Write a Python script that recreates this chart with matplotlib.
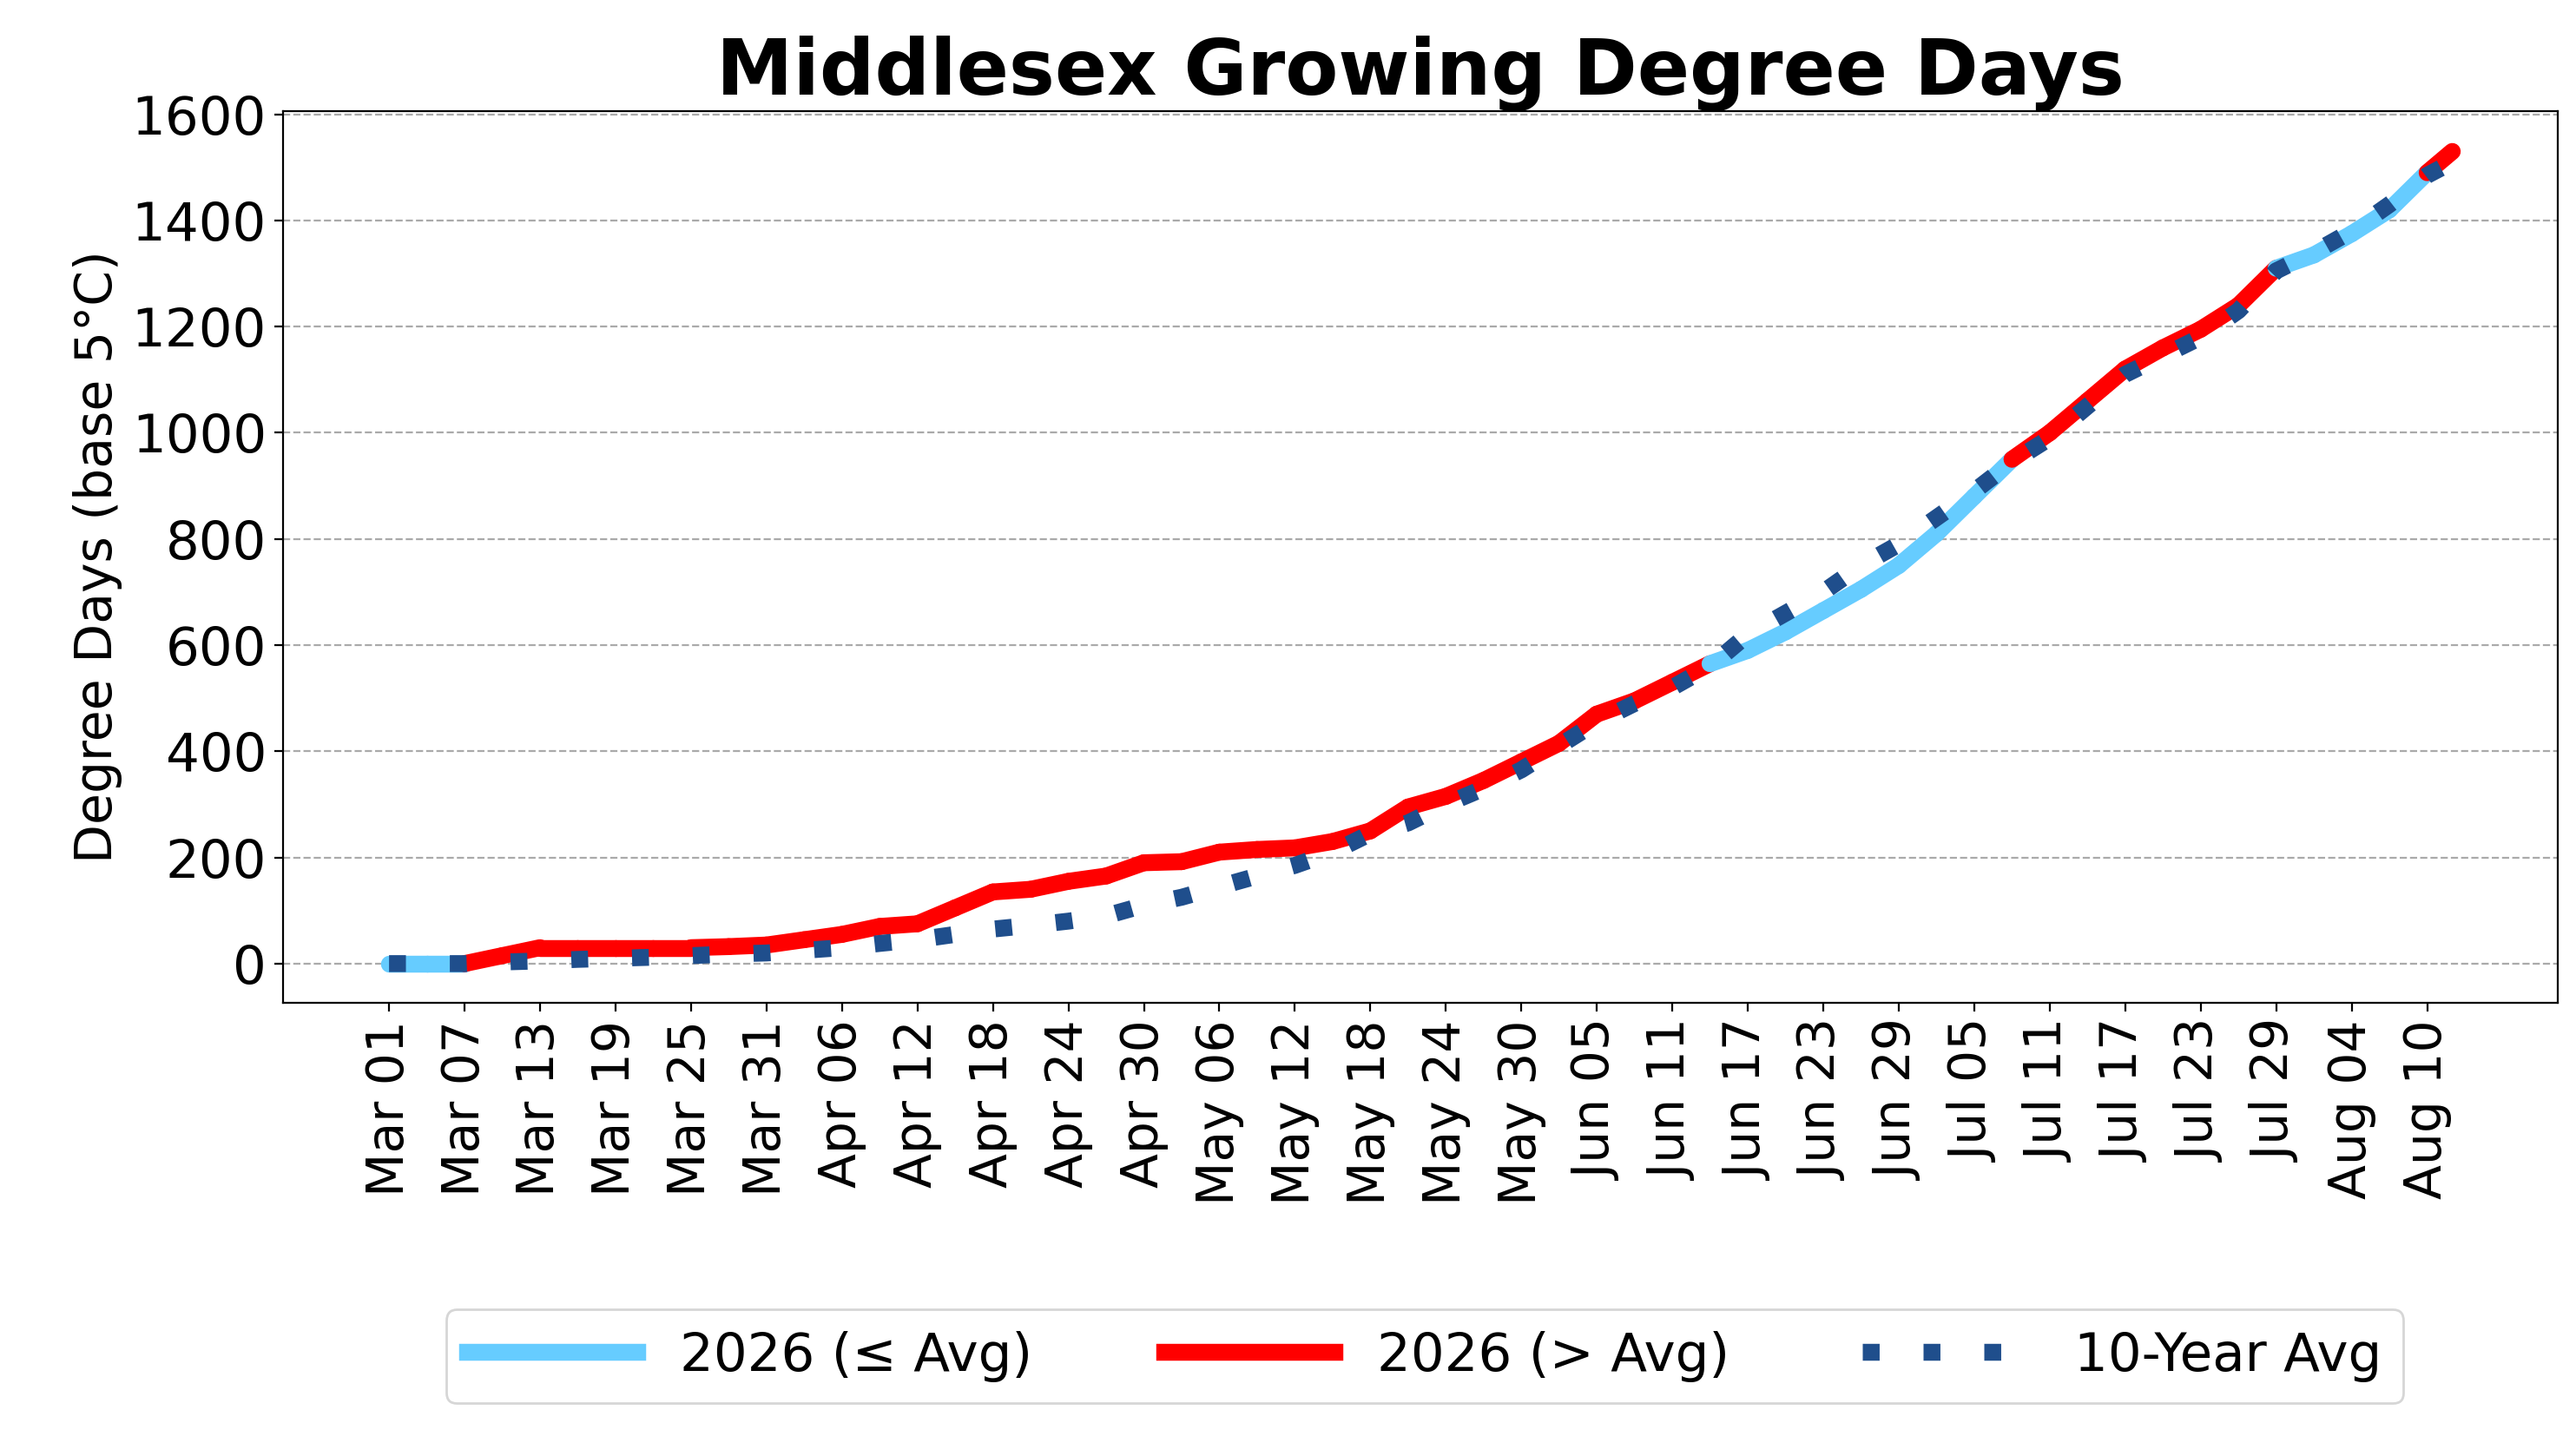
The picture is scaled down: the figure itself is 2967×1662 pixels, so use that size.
import pandas as pd
import matplotlib.pyplot as plt

# days since Mar 01 and cumulative growing degree days
days = list(range(0, 163, 3)) + [164]
gdd_2026 = [0, 0, 0, 15, 30, 30, 30, 30, 30, 32,
            35, 45, 55, 70, 75, 105, 135,
            140, 155, 165, 190, 192, 210, 215, 218, 230, 250,
            295, 315, 345, 380, 415, 470, 495, 530, 565, 590,
            625, 665, 705, 750, 810, 880, 950, 1000, 1060, 1120,
            1160, 1195, 1240, 1310, 1335, 1375, 1420, 1490, 1530]
gdd_avg = [0, 0, 0, 3, 5, 8, 10, 12, 15, 18,
           20, 25, 30, 38, 45, 55, 65,
           72, 80, 90, 110, 125, 145, 165, 185, 210, 245,
           265, 300, 330, 365, 410, 455, 490, 520, 560, 620,
           660, 700, 750, 790, 840, 890, 945, 990, 1050, 1110,
           1145, 1180, 1230, 1305, 1340, 1380, 1430, 1485, 1510]

start = pd.Timestamp('2026-03-01')
dates = [start + pd.Timedelta(days=d) for d in days]
ticks = pd.date_range(start, '2026-08-10', freq='6D')

fig, ax = plt.subplots(figsize=(14.835, 8.31), dpi=200)
fig.subplots_adjust(left=0.11, right=0.993, top=0.923, bottom=0.305)

# colour each segment by comparison with the 10-year average
for i in range(len(days) - 1):
    above = (gdd_2026[i] + gdd_2026[i + 1]) > (gdd_avg[i] + gdd_avg[i + 1])
    ax.plot(dates[i:i + 2], gdd_2026[i:i + 2], color='red' if above else '#66ccff',
            lw=7, solid_capstyle='round', zorder=2)

ax.plot([], [], color='#66ccff', lw=7, label='2026 (≤ Avg)')
ax.plot([], [], color='red', lw=7, label='2026 (> Avg)')
ax.plot(dates, gdd_avg, color='#1f4e8c', lw=7, linestyle=(0, (1, 2.6)), zorder=3,
        label='10-Year Avg')

ax.set_xticks(ticks)
ax.set_xticklabels([t.strftime('%b %d') for t in ticks], rotation=90, fontsize=21)
ax.set_xlim(start - pd.Timedelta(days=8.4), pd.Timestamp('2026-08-10') + pd.Timedelta(days=10.4))
ax.tick_params(axis='y', labelsize=22)
ax.set_ylim(-74, 1606)
ax.set_yticks(range(0, 1601, 200))
ax.set_ylabel('Degree Days (base 5°C)', fontsize=21)
ax.set_title('Middlesex Growing Degree Days', fontsize=32, fontweight='bold', pad=4)
ax.grid(axis='y', linestyle='--', color='#aaaaaa')
fig.legend(loc='center', bbox_to_anchor=(0.553, 0.06), ncol=3, fontsize=22,
           handlelength=3.2, columnspacing=2.5)
plt.savefig('out.png')
